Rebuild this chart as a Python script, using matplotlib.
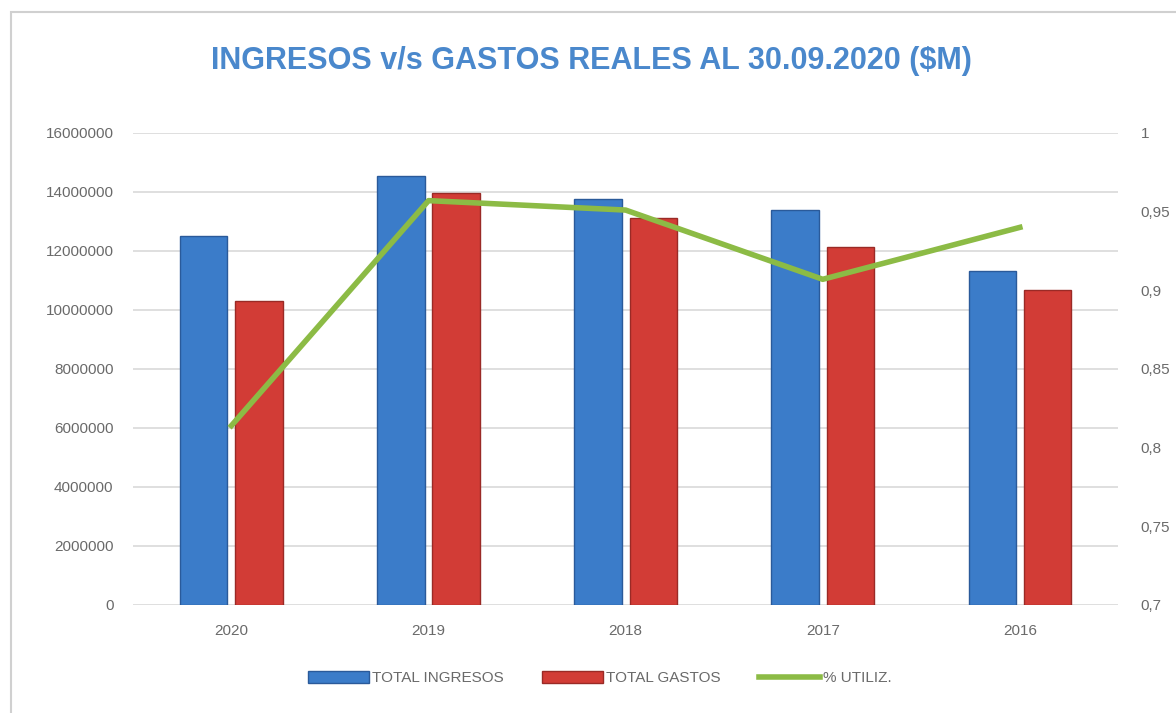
import matplotlib
matplotlib.use('Agg')
import matplotlib.pyplot as plt
from matplotlib.patches import Rectangle
from matplotlib.ticker import FuncFormatter
import numpy as np

plt.rcParams['font.family'] = ['Liberation Sans Narrow', 'Liberation Sans', 'DejaVu Sans']

years = ['2020', '2019', '2018', '2017', '2016']
ingresos = [12510000, 14540000, 13760000, 13390000, 11320000]
gastos = [10310000, 13970000, 13120000, 12140000, 10680000]
utiliz = [0.814, 0.957, 0.951, 0.907, 0.940]

fig = plt.figure(figsize=(11.76, 7.13), dpi=100)
fig.patches.append(Rectangle((0.009, -0.02), 1.1, 1.003, transform=fig.transFigure,
                             fill=False, edgecolor='#d0d0d0', linewidth=1.5))

ax = fig.add_axes([0.113, 0.1515, 0.838, 0.662])
x = np.arange(len(years))
w = 0.24
off = 0.14

ax.bar(x - off, ingresos, w, color='#3b7cc9', edgecolor='#2a5a9a', linewidth=1, zorder=2,
       label='TOTAL INGRESOS')
ax.bar(x + off, gastos, w, color='#d23c36', edgecolor='#9a2a26', linewidth=1, zorder=2,
       label='TOTAL GASTOS')

ax.set_xlim(-0.5, len(years) - 0.5)
ax.set_ylim(0, 16000000)
ax.set_yticks(np.arange(0, 16000001, 2000000))
ax.yaxis.set_major_formatter(FuncFormatter(lambda v, p: f'{int(v)}'))
ax.set_xticks(x)
ax.set_xticklabels(years)
ax.grid(axis='y', color='#d9d9d9', linewidth=1.2, zorder=0)
ax.set_axisbelow(True)
for s in ax.spines.values():
    s.set_visible(False)
ax.tick_params(length=0, colors='#6a6a6a', labelsize=11, pad=14)

ax2 = ax.twinx()
ax2.plot(x, utiliz, color='#8cbb45', linewidth=4, zorder=3, label='% UTILIZ.')
ax2.set_ylim(0.7, 1.0)
ax2.set_yticks([0.7, 0.75, 0.8, 0.85, 0.9, 0.95, 1.0])
ax2.yaxis.set_major_formatter(FuncFormatter(lambda v, p: f'{v:g}'.replace('.', ',')))
for s in ax2.spines.values():
    s.set_visible(False)
ax2.tick_params(length=0, colors='#6a6a6a', labelsize=11, pad=16)

fig.text(0.503, 0.915, 'INGRESOS v/s GASTOS REALES AL 30.09.2020 ($M)', ha='center', va='center',
         fontsize=22, fontweight='bold', color='#4a88cc')

h1, l1 = ax.get_legend_handles_labels()
h2, l2 = ax2.get_legend_handles_labels()
fig.legend(h1 + h2, l1 + l2, loc='center', bbox_to_anchor=(0.51, 0.049), ncol=3, frameon=False,
           fontsize=11, labelcolor='#6a6a6a', handlelength=4, handleheight=0.8,
           columnspacing=2.5, handletextpad=0.2)

fig.savefig('out.png', dpi=100)
